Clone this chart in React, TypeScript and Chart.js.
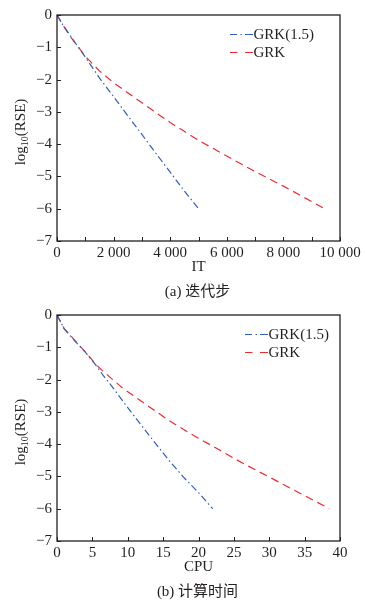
import React, { useEffect, useRef } from 'react';
import { Chart, registerables } from 'chart.js';
Chart.register(...registerables);

// ---------- data (a) iterations ----------
const itGRK15X = [0, 200, 500, 1000, 1500, 2000, 2500, 3000, 3500, 4000, 4500, 5000];
const itGRK15Y = [0, -0.3, -0.68, -1.3, -1.95, -2.53, -3.12, -3.7, -4.29, -4.87, -5.45, -6.0];
const itGRKX = [0, 200, 500, 1000, 1500, 2000, 3000, 4000, 5000, 6000, 7000, 8000, 9000, 9450];
const itGRKY = [0, -0.3, -0.7, -1.28, -1.73, -2.1, -2.72, -3.33, -3.88, -4.37, -4.85, -5.3, -5.78, -6.0];

// ---------- data (b) CPU time ----------
const cpuGRK15X = [0, 1, 2.5, 4, 5.3, 6.5, 8, 10, 12, 14, 16, 18, 20, 22];
const cpuGRK15Y = [0, -0.42, -0.8, -1.15, -1.5, -1.86, -2.28, -2.87, -3.44, -4.0, -4.55, -5.05, -5.5, -6.0];
const cpuGRKX = [0, 1, 2.5, 4, 5.3, 6.3, 9.3, 12.7, 15.7, 19.2, 22.8, 26.4, 30, 34, 38.5];
const cpuGRKY = [0, -0.42, -0.78, -1.14, -1.48, -1.7, -2.27, -2.79, -3.25, -3.72, -4.16, -4.61, -5.02, -5.48, -6.0];

const seriesNames = ['GRK(1.5)', 'GRK'];
const yMin = -7;
const yMax = 0;
const itMax = 10000;
const itStep = 1000;
const itLabelStep = 2000;
const cpuMax = 40;
const cpuStep = 5;
const captions = ['(a) 迭代步', '(b) 计算时间'];
const xTitles = ['IT', 'CPU'];

const BLUE = '#2f5fc0';
const RED = '#ee2b30';
const INK = '#231f20';
const SERIF = "'Liberation Serif', 'Times New Roman', serif";
const CAP_FAMILY = "'Liberation Serif', 'Noto Sans CJK SC', serif";

const fmtThousands = (v: number) => String(v).replace(/\B(?=(\d{3})+(?!\d))/g, ' ');
const fmtY = (v: number) => (v === 0 ? '0' : (v < 0 ? '\u2212' : '') + Math.abs(v));

function zip(xs: number[], ys: number[]) {
  return xs.map((x, i) => ({ x, y: ys[i] }));
}

function decorPlugin(opts: { xTitle: string; caption: string; legendOffset: number }) {
  return {
    id: 'decor',
    afterDraw(chart: any) {
      const ctx = chart.ctx as CanvasRenderingContext2D;
      const { left, right, top, bottom } = chart.chartArea;
      ctx.save();
      // frame
      ctx.strokeStyle = INK;
      ctx.lineWidth = 1.3;
      ctx.setLineDash([]);
      ctx.strokeRect(left, top, right - left, bottom - top);
      // inside ticks
      ctx.lineWidth = 1;
      const xs = chart.scales.x;
      xs.ticks.forEach((t: any) => {
        const px = Math.round(xs.getPixelForValue(t.value)) + 0.5;
        ctx.beginPath();
        ctx.moveTo(px, bottom);
        ctx.lineTo(px, bottom - 4);
        ctx.stroke();
      });
      const ys = chart.scales.y;
      ys.ticks.forEach((t: any) => {
        const py = Math.round(ys.getPixelForValue(t.value)) + 0.5;
        ctx.beginPath();
        ctx.moveTo(left, py);
        ctx.lineTo(left + 4, py);
        ctx.stroke();
      });
      // legend
      const lx0 = right - opts.legendOffset;
      const lx1 = lx0 + 23;
      const ly1 = top + 19.5;
      const ly2 = top + 37.5;
      ctx.lineWidth = 1.2;
      ctx.strokeStyle = BLUE;
      ctx.beginPath();
      ctx.moveTo(lx0, ly1); ctx.lineTo(lx0 + 7, ly1);
      ctx.moveTo(lx0 + 10.5, ly1); ctx.lineTo(lx0 + 12, ly1);
      ctx.moveTo(lx0 + 15, ly1); ctx.lineTo(lx1, ly1);
      ctx.stroke();
      ctx.strokeStyle = RED;
      ctx.beginPath();
      ctx.moveTo(lx0, ly2); ctx.lineTo(lx0 + 7.5, ly2);
      ctx.moveTo(lx0 + 15, ly2); ctx.lineTo(lx1, ly2);
      ctx.stroke();
      ctx.fillStyle = INK;
      ctx.font = `15px ${SERIF}`;
      ctx.textAlign = 'left';
      ctx.textBaseline = 'middle';
      ctx.fillText(seriesNames[0], lx1 + 0.5, ly1 + 0.5);
      ctx.fillText(seriesNames[1], lx1 + 0.5, ly2 + 0.5);
      // x title and caption
      const cx = (left + right) / 2;
      ctx.textAlign = 'center';
      ctx.fillText(opts.xTitle, cx, bottom + 26);
      ctx.font = `15px ${CAP_FAMILY}`;
      ctx.fillText(opts.caption, cx - 1, bottom + 51);
      // y title with subscript
      const cy = (top + bottom) / 2 + 4;
      ctx.translate(24.5, cy);
      ctx.rotate(-Math.PI / 2);
      ctx.textBaseline = 'alphabetic';
      ctx.textAlign = 'left';
      const main = `15px ${SERIF}`;
      const sub = `10px ${SERIF}`;
      ctx.font = main;
      const w1 = ctx.measureText('log').width;
      const w3 = ctx.measureText('(RSE)').width;
      ctx.font = sub;
      const w2 = ctx.measureText('10').width;
      let x = -(w1 + w2 + w3) / 2;
      ctx.font = main;
      ctx.fillText('log', x, 0);
      x += w1;
      ctx.font = sub;
      ctx.fillText('10', x, 3);
      x += w2;
      ctx.font = main;
      ctx.fillText('(RSE)', x, 0);
      ctx.restore();
    },
  };
}

function makeConfig(
  blue: { x: number; y: number }[],
  red: { x: number; y: number }[],
  xMax: number,
  xStep: number,
  xLabel: (v: number) => string,
  axisHeight: number,
  plugin: any
): any {
  return {
    type: 'line',
    data: {
      datasets: [
        {
          label: seriesNames[0],
          data: blue,
          borderColor: BLUE,
          borderWidth: 1.2,
          borderDash: [7, 3, 1.5, 3],
          pointRadius: 0,
          tension: 0,
          fill: false,
        },
        {
          label: seriesNames[1],
          data: red,
          borderColor: RED,
          borderWidth: 1.2,
          borderDash: [8, 5],
          pointRadius: 0,
          tension: 0,
          fill: false,
        },
      ],
    },
    options: {
      responsive: false,
      animation: false,
      devicePixelRatio: 1,
      layout: { padding: { left: 0, right: 25, top: 15, bottom: 0 } },
      plugins: { legend: { display: false }, tooltip: { enabled: false }, title: { display: false } },
      scales: {
        x: {
          type: 'linear',
          min: 0,
          max: xMax,
          grid: { display: false, drawTicks: false },
          border: { display: false },
          ticks: {
            stepSize: xStep,
            autoSkip: false,
            maxRotation: 0,
            padding: 3,
            color: INK,
            font: { family: SERIF, size: 15 },
            callback: (v: number) => xLabel(v),
          },
          afterFit: (s: any) => {
            s.height = axisHeight;
          },
        },
        y: {
          type: 'linear',
          min: yMin,
          max: yMax,
          grid: { display: false, drawTicks: false },
          border: { display: false },
          ticks: {
            stepSize: 1,
            padding: 5,
            color: INK,
            font: { family: SERIF, size: 15 },
            callback: (v: number) => fmtY(v),
          },
          afterFit: (s: any) => {
            s.width = 57;
          },
        },
      },
    },
    plugins: [plugin],
  };
}

function ChartBox(props: { config: any; height: number }) {
  const ref = useRef<HTMLCanvasElement | null>(null);
  useEffect(() => {
    if (!ref.current) return;
    const c = new Chart(ref.current, props.config);
    return () => c.destroy();
  }, []);
  return (
    <canvas ref={ref} width={365} height={props.height} style={{ display: 'block', width: 365, height: props.height }} />
  );
}

export default function App() {
  const cfgA = makeConfig(
    zip(itGRK15X, itGRK15Y),
    zip(itGRKX, itGRKY),
    itMax,
    itStep,
    (v) => (v % itLabelStep === 0 ? fmtThousands(v) : ''),
    59,
    decorPlugin({ xTitle: xTitles[0], caption: captions[0], legendOffset: 110 })
  );
  const cfgB = makeConfig(
    zip(cpuGRK15X, cpuGRK15Y),
    zip(cpuGRKX, cpuGRKY),
    cpuMax,
    cpuStep,
    (v) => String(v),
    64,
    decorPlugin({ xTitle: xTitles[1], caption: captions[1], legendOffset: 95 })
  );
  return (
    <div style={{ position: 'absolute', left: 0, top: 0, width: 365, height: 605, background: '#fff' }}>
      <ChartBox config={cfgA} height={300} />
      <ChartBox config={cfgB} height={305} />
    </div>
  );
}
